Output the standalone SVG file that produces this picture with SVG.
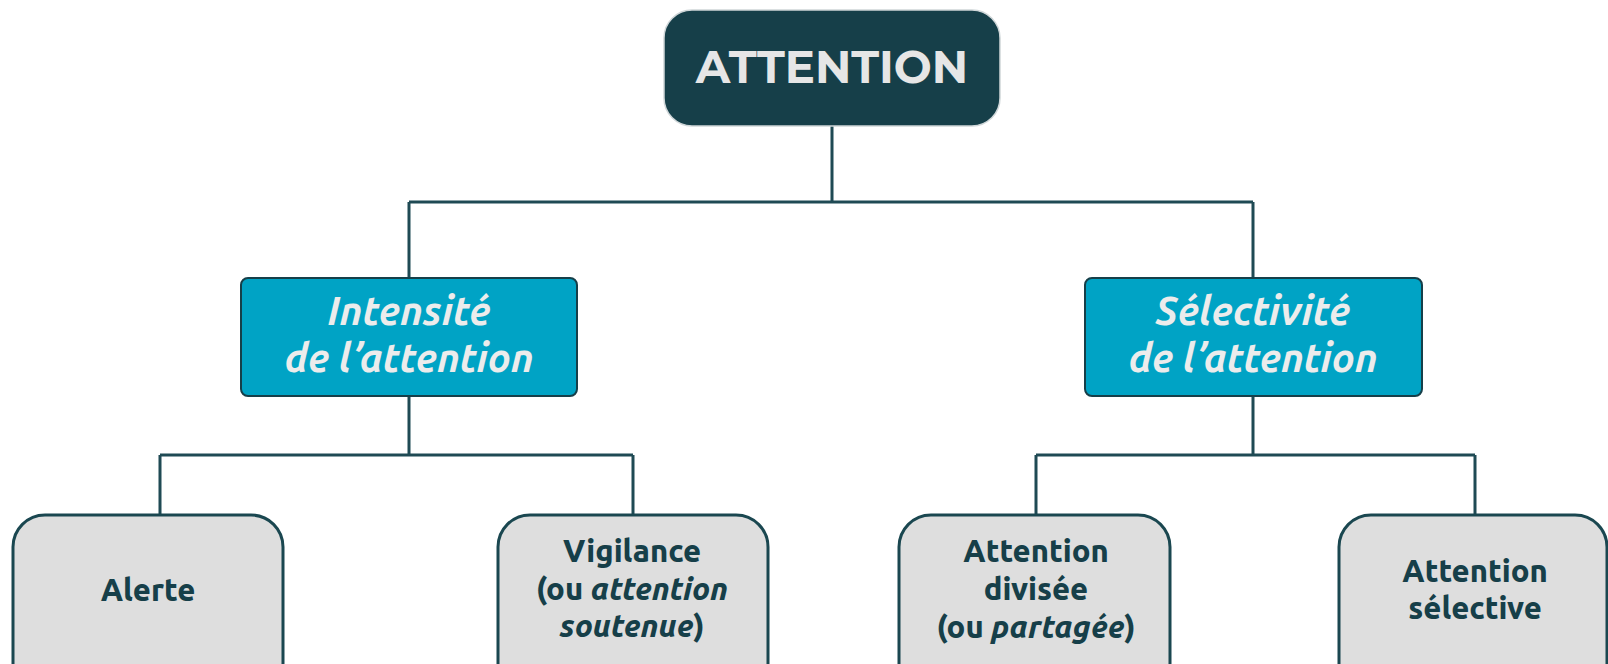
<svg xmlns="http://www.w3.org/2000/svg" width="1608" height="664" viewBox="0 0 1608 664">
<style>
.conn{fill:none;stroke:#1f4a54;stroke-width:3}
.root{fill:#163f49;stroke:#cfd6d8;stroke-width:1.5}
.mid{fill:#00a3c5;stroke:#163f49;stroke-width:2}
.leaf{fill:#dedede;stroke:#1a4750;stroke-width:3}
.t-root{font-family:"Montserrat","Open Sans","Liberation Sans",sans-serif;font-weight:700;font-size:45px;fill:#e6e6e6;text-anchor:middle}
.t-mid{font-family:"Ubuntu","Open Sans","Liberation Sans",sans-serif;font-style:italic;font-weight:700;font-size:40px;fill:#ececec;text-anchor:middle}
.t-leaf{font-family:"Ubuntu","Open Sans","Liberation Sans",sans-serif;font-weight:800;font-size:31px;fill:#163f49;text-anchor:middle}
.i{font-style:italic}
</style>
<g id="connectors">
<path class="conn" d="M832 125V202M409 202H1253M409 202V278M1253 202V278"/>
<path class="conn" d="M409 396V455M160 455H633M160 455V515M633 455V515"/>
<path class="conn" d="M1253 396V455M1036 455H1475M1036 455V515M1475 455V515"/>
</g>
<g id="root">
<rect class="root" x="664" y="10" width="336" height="116" rx="28"/>
<text class="t-root" x="832" y="83">ATTENTION</text>
</g>
<g id="intensite">
<rect class="mid" x="241" y="278" width="336" height="118" rx="7"/>
<text class="t-mid" x="409" y="325">Intensité</text>
<text class="t-mid" x="409" y="372">de l’attention</text>
</g>
<g id="selectivite">
<rect class="mid" x="1085" y="278" width="337" height="118" rx="7"/>
<text class="t-mid" x="1253" y="325">Sélectivité</text>
<text class="t-mid" x="1253" y="372">de l’attention</text>
</g>
<g id="alerte">
<rect class="leaf" x="13" y="515" width="270" height="180" rx="32"/>
<text class="t-leaf" x="148" y="601">Alerte</text>
</g>
<g id="vigilance">
<rect class="leaf" x="498" y="515" width="270" height="180" rx="32"/>
<text class="t-leaf" x="632" y="562">Vigilance</text>
<text class="t-leaf" x="632" y="600">(ou <tspan class="i">attention</tspan></text>
<text class="t-leaf" x="632" y="637"><tspan class="i">soutenue</tspan>)</text>
</g>
<g id="divisee">
<rect class="leaf" x="899" y="515" width="271" height="180" rx="32"/>
<text class="t-leaf" x="1036" y="562">Attention</text>
<text class="t-leaf" x="1036" y="600">divisée</text>
<text class="t-leaf" x="1036" y="638">(ou <tspan class="i">partagée</tspan>)</text>
</g>
<g id="selective">
<rect class="leaf" x="1339" y="515" width="268" height="180" rx="32"/>
<text class="t-leaf" x="1475" y="582">Attention</text>
<text class="t-leaf" x="1475" y="619">sélective</text>
</g>
</svg>
